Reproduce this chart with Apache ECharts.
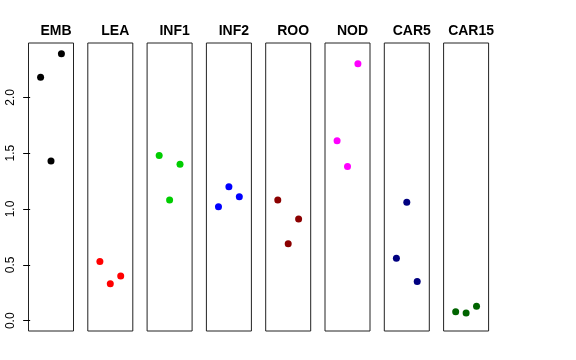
<!DOCTYPE html>
<html><head><meta charset="utf-8">
<script src="https://cdn.jsdelivr.net/npm/echarts@6/dist/echarts.min.js"></script>
<style>html,body{margin:0;padding:0;background:#fff}#c{width:576px;height:360px}</style>
</head><body><div id="c"></div>
<script>
var panels = ["EMB","LEA","INF1","INF2","ROO","NOD","CAR5","CAR15"];
var colors = ["#000000","#FF0000","#00CD00","#0000FF","#8B0000","#FF00FF","#000080","#006400"];
var xPos = [1,2,3];
var EMB = [2.18,1.43,2.39];
var LEA = [0.53,0.33,0.40];
var INF1 = [1.48,1.08,1.40];
var INF2 = [1.02,1.20,1.11];
var ROO = [1.08,0.69,0.91];
var NOD = [1.61,1.38,2.30];
var CAR5 = [0.56,1.06,0.35];
var CAR15 = [0.08,0.07,0.13];
var values = [EMB,LEA,INF1,INF2,ROO,NOD,CAR5,CAR15];
var yTicks = [0,0.5,1.0,1.5,2.0];

var grids=[],xAxes=[],yAxes=[],series=[],titles=[];
for (var i=0;i<panels.length;i++){
  var left = 28.5 + 59.3*i;
  grids.push({left:left,top:43,width:45,height:288,show:true,borderColor:'#222',borderWidth:1,backgroundColor:'transparent'});
  xAxes.push({type:'value',gridIndex:i,min:-0.16,max:4.16,show:false});
  yAxes.push({type:'value',gridIndex:i,min:-0.092,max:2.486,
    show: i===0,
    splitLine:{show:false},
    axisLine:{show:false},
    axisTick:{show:i===0,length:7,customValues:yTicks,lineStyle:{color:'#000'}},
    axisLabel:{show:i===0,customValues:yTicks,rotate:90,margin:12,color:'#000',fontFamily:'Liberation Sans',fontSize:12,
      formatter:function(v){return v.toFixed(1);}}
  });
  series.push({type:'scatter',xAxisIndex:i,yAxisIndex:i,symbolSize:7,itemStyle:{color:colors[i],opacity:1},
    data: xPos.map(function(x,j){return [x,values[i][j]];}),silent:true});
  titles.push({text:panels[i],left:left+22.5,top:19,textAlign:'center',
    textStyle:{fontFamily:'Liberation Sans',fontWeight:'bold',fontSize:14,color:'#000'}});
}
var chart = echarts.init(document.getElementById('c'),null,{renderer:'canvas'});
chart.setOption({animation:false,title:titles,grid:grids,xAxis:xAxes,yAxis:yAxes,series:series});
</script></body></html>
